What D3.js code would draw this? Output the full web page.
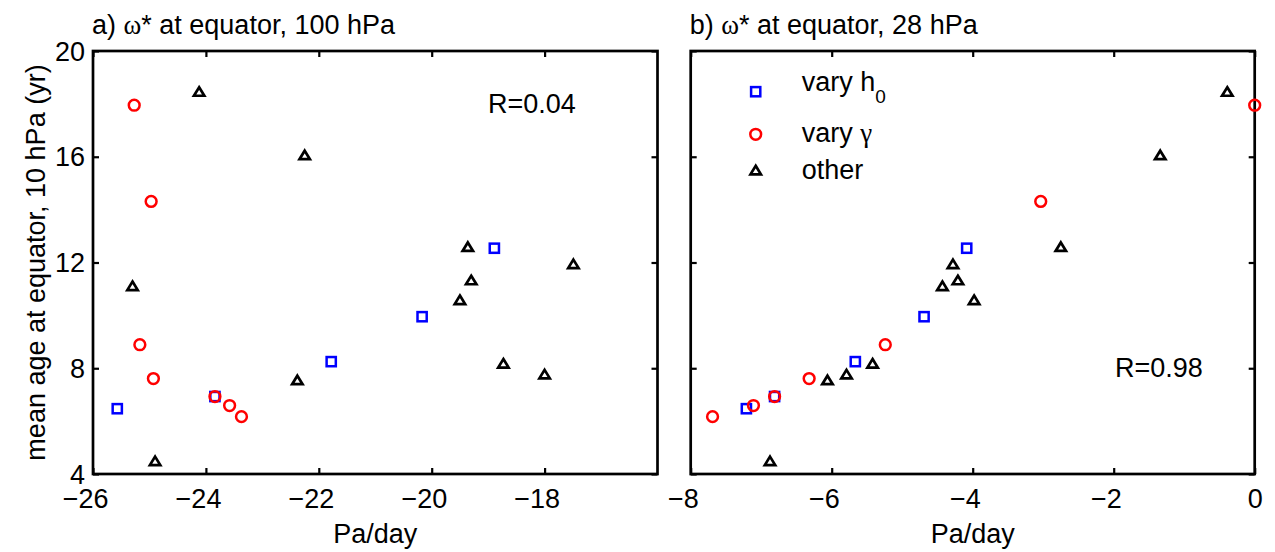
<!DOCTYPE html>
<html>
<head>
<meta charset="utf-8">
<script src="https://cdn.jsdelivr.net/npm/d3@7"></script>
<style>
  html, body { margin: 0; padding: 0; background: #fff; }
  svg { display: block; }
  text { font-family: "Liberation Sans", Arial, sans-serif; fill: #000; }
</style>
</head>
<body>
<svg id="chart" width="1275" height="552"></svg>
<script>
// ---------- data ----------
// series "vary h0" (blue squares)
const ageH0   = [6.47, 6.93, 8.25, 9.95, 12.54];
const w100H0  = [-25.57, -23.84, -21.78, -20.17, -18.89];
const w28H0   = [-7.21, -6.81, -5.665, -4.69, -4.085];
// series "vary gamma" (red circles)
const ageGam  = [17.95, 14.31, 8.89, 7.61, 6.93, 6.59, 6.17];
const w100Gam = [-25.27, -24.97, -25.17, -24.93, -23.84, -23.58, -23.37];
const w28Gam  = [0, -3.035, -5.24, -6.32, -6.81, -7.11, -7.69];
// series "other" (black triangles)
const ageOth  = [18.47, 16.07, 11.12, 4.50, 7.56, 12.60, 11.34, 10.59, 11.95, 8.19, 7.78];
const w100Oth = [-24.12, -22.25, -25.30, -24.90, -22.38, -19.36, -19.30, -19.50, -17.49, -18.73, -18.0];
const w28Oth  = [-0.389, -1.34, -4.43, -6.875, -6.06, -2.75, -4.21, -3.98, -4.28, -5.42, -5.79];

const xTicksA = [-26, -24, -22, -20, -18];
const xTicksB = [-8, -6, -4, -2, 0];
const yTicks  = [4, 8, 12, 16, 20];
const corrA = "R=0.04";
const corrB = "R=0.98";

// ---------- layout ----------
const FS = 27;
const svg = d3.select("#chart");
const yTop = 51, yBot = 474;
const y = d3.scaleLinear().domain([4, 20]).range([yBot, yTop]);

const panels = [
  { x0: 93, x1: 657.5, domain: [-26, -16], ticks: xTicksA, yLabels: true,
    title: ["a) ", "ω", "* at equator, 100 hPa"], corr: corrA, corrPos: [488, 113],
    wH0: w100H0, wGam: w100Gam, wOth: w100Oth, legend: false },
  { x0: 690.7, x1: 1254.7, domain: [-8, 0], ticks: xTicksB, yLabels: false,
    title: ["b) ", "ω", "* at equator, 28 hPa"], corr: corrB, corrPos: [1115, 377],
    wH0: w28H0, wGam: w28Gam, wOth: w28Oth, legend: true }
];

const fmt = v => (v < 0 ? "\u2212" + Math.abs(v) : String(v));
const triPath = "M0,-4.2L5.2,4.3L-5.2,4.3Z";

function drawSquare(g, cx, cy) {
  g.append("rect").attr("x", cx - 4.6).attr("y", cy - 4.6).attr("width", 9.2).attr("height", 9.2)
    .attr("fill", "none").attr("stroke", "#0000ff").attr("stroke-width", 2.5);
}
function drawCircle(g, cx, cy) {
  g.append("circle").attr("cx", cx).attr("cy", cy).attr("r", 5.4)
    .attr("fill", "none").attr("stroke", "#ff0000").attr("stroke-width", 2.5);
}
function drawTri(g, cx, cy) {
  g.append("path").attr("d", triPath).attr("transform", `translate(${cx},${cy})`)
    .attr("fill", "none").attr("stroke", "#000").attr("stroke-width", 2.7)
    .attr("stroke-linejoin", "miter");
}

panels.forEach(p => {
  const x = d3.scaleLinear().domain(p.domain).range([p.x0, p.x1]);
  const g = svg.append("g");

  // bottom axis
  const gb = g.append("g").attr("transform", `translate(0,${yBot})`)
    .call(d3.axisBottom(x).tickValues(p.ticks).tickSize(-6).tickFormat(fmt));
  gb.select(".domain").remove();
  gb.selectAll(".tick line").attr("stroke-width", 2.2);
  gb.selectAll(".tick text")
    .attr("font-size", FS).attr("font-family", "Liberation Sans, Arial, sans-serif")
    .attr("text-anchor", "end").attr("dy", 0).attr("y", 34)
    .attr("x", d => String(Math.abs(d)).length * 0.556 * FS / 2);

  // top axis
  const gt = g.append("g").attr("transform", `translate(0,${yTop})`)
    .call(d3.axisTop(x).tickValues(p.ticks).tickSize(-6).tickFormat(""));
  gt.select(".domain").remove();
  gt.selectAll(".tick line").attr("stroke-width", 2.2);

  // left axis
  const gl = g.append("g").attr("transform", `translate(${p.x0},0)`)
    .call(d3.axisLeft(y).tickValues(yTicks).tickSize(-6).tickFormat(p.yLabels ? d3.format("d") : ""));
  gl.select(".domain").remove();
  gl.selectAll(".tick line").attr("stroke-width", 2.2);
  gl.selectAll(".tick text").attr("font-size", FS)
    .attr("font-family", "Liberation Sans, Arial, sans-serif").attr("x", -8).attr("dy", "0.34em");

  // right axis
  const gr = g.append("g").attr("transform", `translate(${p.x1},0)`)
    .call(d3.axisRight(y).tickValues(yTicks).tickSize(-6).tickFormat(""));
  gr.select(".domain").remove();
  gr.selectAll(".tick line").attr("stroke-width", 2.2);

  // frame
  g.append("rect").attr("x", p.x0).attr("y", yTop).attr("width", p.x1 - p.x0).attr("height", yBot - yTop)
    .attr("fill", "none").attr("stroke", "#000").attr("stroke-width", 2.7);

  // data markers
  const m = g.append("g");
  p.wH0.forEach((v, i) => drawSquare(m, x(v), y(ageH0[i])));
  p.wGam.forEach((v, i) => drawCircle(m, x(v), y(ageGam[i])));
  p.wOth.forEach((v, i) => drawTri(m, x(v), y(ageOth[i])));

  // title
  const t = g.append("text").attr("x", p.x0 - 1).attr("y", 34).attr("font-size", FS);
  t.append("tspan").text(p.title[0]);
  t.append("tspan").attr("font-family", "Liberation Serif, serif").text(p.title[1]);
  t.append("tspan").text(p.title[2]);

  // correlation text
  g.append("text").attr("x", p.corrPos[0]).attr("y", p.corrPos[1]).attr("font-size", FS).text(p.corr);

  // x label
  g.append("text").attr("x", (p.x0 + p.x1) / 2).attr("y", 543).attr("text-anchor", "middle")
    .attr("font-size", FS).text("Pa/day");

  // legend
  if (p.legend) {
    const lg = g.append("g");
    const mx = 755.7, tx = 801.7;
    drawSquare(lg, mx, 91.7);
    drawCircle(lg, mx, 134.3);
    drawTri(lg, mx, 170);
    const t1 = lg.append("text").attr("x", tx).attr("y", 90.5).attr("font-size", FS);
    t1.append("tspan").text("vary h");
    t1.append("tspan").attr("font-size", 19).attr("dy", 12).text("0");
    const t2 = lg.append("text").attr("x", tx).attr("y", 142).attr("font-size", FS);
    t2.append("tspan").text("vary ");
    t2.append("tspan").attr("font-family", "Liberation Serif, serif").text("γ");
    lg.append("text").attr("x", tx).attr("y", 179).attr("font-size", FS).text("other");
  }
});

// y axis label
svg.append("text")
  .attr("transform", `translate(45,${(yTop + yBot) / 2}) rotate(-90)`)
  .attr("text-anchor", "middle").attr("font-size", FS)
  .text("mean age at equator, 10 hPa (yr)");
</script>
</body>
</html>
